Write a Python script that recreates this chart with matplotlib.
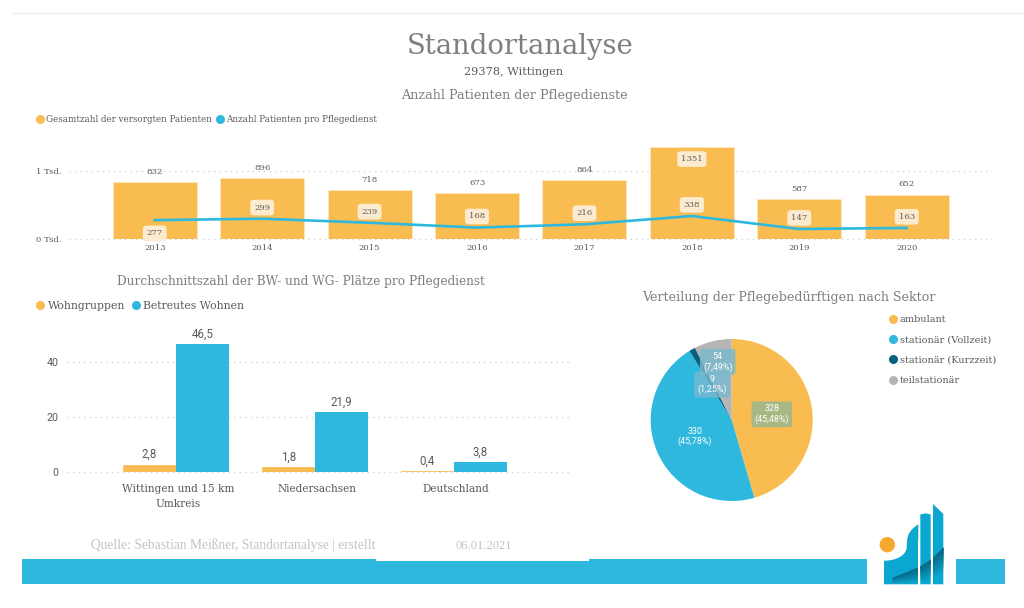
import matplotlib
matplotlib.use("Agg")
import matplotlib.pyplot as plt
import numpy as np
from matplotlib.lines import Line2D
from matplotlib.patches import Circle, PathPatch, Polygon, Rectangle
from matplotlib.path import Path

W, H = 1024, 608

ORANGE = "#F9BC50"
BLUE = "#2EB8DE"
DARK = "#07607F"
GRAY = "#B5B5B5"
TITLE = "#7F7F7F"
TEXT = "#5A5A5A"
GRID = "#D4D4D4"
SLAB = "DejaVu Serif"
SANS = "Roboto"

years = ["2013", "2014", "2015", "2016", "2017", "2018", "2019", "2020"]
patients_total = [832, 896, 718, 673, 864, 1351, 587, 652]
patients_per_service = [277, 299, 239, 168, 216, 338, 147, 163]

regions = ["Wittingen und 15 km\nUmkreis", "Niedersachsen", "Deutschland"]
wohngruppen = [2.8, 1.8, 0.4]
betreutes_wohnen = [46.5, 21.9, 3.8]

sectors = ["ambulant", "stationär (Vollzeit)", "stationär (Kurzzeit)", "teilstationär"]
sector_values = [328, 330, 9, 54]
sector_shares = ["45,48%", "45,78%", "1,25%", "7,49%"]


def px_axes(left, top, right, bottom):
    # axes box given in image pixels
    ax = fig.add_axes([left / W, 1 - bottom / H, (right - left) / W, (bottom - top) / H])
    ax.patch.set_alpha(0)
    for spine in ax.spines.values():
        spine.set_visible(False)
    return ax


def px_legend(labels, colors, x, y, size, **kwargs):
    handles = [Line2D([], [], ls="", marker="o", ms=6.5, color=c, mew=0) for c in colors]
    fig.legend(handles, labels, loc="upper left", bbox_to_anchor=(x / W, 1 - y / H),
               frameon=False, borderpad=0, borderaxespad=0, handlelength=1,
               handletextpad=0.15, labelcolor=TEXT, prop={"family": SLAB, "size": size},
               **kwargs)


fig = plt.figure(figsize=(W / 100, H / 100), dpi=100)

# page decoration in pixel coordinates
page = fig.add_axes([0, 0, 1, 1])
page.set_xlim(0, W)
page.set_ylim(H, 0)
page.axis("off")
page.plot([12, W], [12.5, 12.5], color="#EEEEEE", lw=1)
page.text(520, 47, "Standortanalyse", ha="center", va="center", color=TITLE, family=SLAB, size=19.8)
page.text(513.5, 72, "29378, Wittingen", ha="center", va="center", color=TEXT, family=SLAB, size=8.1)
page.text(514.5, 95, "Anzahl Patienten der Pflegedienste", ha="center", va="center", color=TITLE, family=SLAB, size=9.15)
page.text(301, 281, "Durchschnittszahl der BW- und WG- Plätze pro Pflegedienst", ha="center", va="center", color=TITLE, family=SLAB, size=8.7)
page.text(789, 297, "Verteilung der Pflegebedürftigen nach Sektor", ha="center", va="center", color=TITLE, family=SLAB, size=9.05)

# footer
page.add_patch(Rectangle((22, 559), 845, 24.5, color=BLUE, lw=0))
page.add_patch(Rectangle((956, 559), 48.7, 24.5, color=BLUE, lw=0))
page.add_patch(Rectangle((376, 559), 213, 2, color="white", lw=0))
page.text(91, 545, "Quelle: Sebastian Meißner, Standortanalyse | erstellt", ha="left", va="center",
          color="#C4C4C4", family="Liberation Serif", size=9.75)
page.text(483.5, 546, "06.01.2021", ha="center", va="center", color="#C4C4C4",
          family="Liberation Serif", size=9)

# logo
LOGO = "#0AA8D0"
swoosh = Path([(884, 560.7), (897, 560.7), (906.7, 555), (906.7, 546.7), (906.7, 537), (908, 531), (918.3, 524.3),
               (918.3, 584.3), (884, 584.3), (884, 560.7)],
              [Path.MOVETO, Path.CURVE4, Path.CURVE4, Path.CURVE4, Path.CURVE4, Path.CURVE4, Path.CURVE4,
               Path.LINETO, Path.LINETO, Path.CLOSEPOLY])
page.add_patch(PathPatch(swoosh, fc=LOGO, lw=0))
page.add_patch(Polygon([(920.3, 584.3), (920.3, 514.5), (925.5, 513.3), (930.7, 514.5), (930.7, 584.3)], fc=LOGO, lw=0))
page.add_patch(Polygon([(933, 584.3), (933, 504), (943.3, 514), (943.3, 584.3)], fc=LOGO, lw=0))
page.add_patch(Circle((887.3, 544.7), 7.7, fc="#F5A82E", lw=0))
# shaded band across the logo
gx = np.linspace(884, 943.3, 120)
gy = np.linspace(545, 584.3, 80)
edge = np.interp(gx, [892, 918, 931, 943.3], [578.5, 568, 560, 548])
fade = 6 + (gx - 892).clip(0) * 0.38
shade = np.zeros((len(gy), len(gx), 4))
shade[..., :3] = matplotlib.colors.to_rgb("#075C7A")
depth = gy[:, None] - edge[None, :]
shade[..., 3] = np.where(depth > 0, np.clip(1 - depth / fade[None, :], 0, 1), 0) * (gx[None, :] > 892) * 0.9
page.imshow(shade, extent=(884, 943.3, 584.3, 545), aspect="auto", interpolation="bilinear", zorder=3)
page.add_patch(Rectangle((918.3, 540), 2, 45, color="white", lw=0, zorder=4))
page.add_patch(Rectangle((930.7, 540), 2.3, 45, color="white", lw=0, zorder=4))
page.set_xlim(0, W)
page.set_ylim(H, 0)

# top chart: bars and line
ax1 = px_axes(69, 140, 992, 239)
x1 = np.arange(len(years))
ax1.bar(x1, patients_total, width=0.783, color=ORANGE, edgecolor="#FDE6C0", lw=0.6, zorder=2)
ax1.plot(x1, patients_per_service, color=BLUE, lw=1.9, zorder=3)
ax1.set_xlim(-0.798, 7.794)
ax1.set_ylim(0, 1456)
ax1.set_xticks(x1, years)
ax1.set_yticks([0, 1000], ["0 Tsd.", "1 Tsd."])
ax1.grid(axis="y", color=GRID, ls=(0, (1, 3)), lw=1, zorder=0, clip_on=False)
ax1.tick_params(length=0, labelsize=6.1, labelcolor=TEXT, pad=3.5)
ax1.tick_params(axis="y", pad=5.5)
for lab in ax1.get_xticklabels() + ax1.get_yticklabels():
    lab.set_family(SLAB)
box = dict(boxstyle="round,pad=0.45,rounding_size=0.4", fc="#FDEBCF", ec="none")
for i, (total, per) in enumerate(zip(patients_total, patients_per_service)):
    if total > 1000:
        ax1.annotate(str(total), (i, total), xytext=(0, -8.6), textcoords="offset points", ha="center",
                     va="center", color=TEXT, family=SLAB, size=6.1, bbox=box, zorder=4)
    else:
        ax1.annotate(str(total), (i, total), xytext=(0, 7.6), textcoords="offset points", ha="center",
                     va="center", color=TEXT, family=SLAB, size=6.1, zorder=4)
    off = -9.5 if i == 0 else 8
    ax1.annotate(str(per), (i, per), xytext=(0, off), textcoords="offset points", ha="center",
                 va="center", color=TEXT, family=SLAB, size=6.1, bbox=box, zorder=4)
px_legend(["Gesamtzahl der versorgten Patienten", "Anzahl Patienten pro Pflegedienst"], [ORANGE, BLUE],
          36, 115.5, 6.35, ncol=2, columnspacing=0.45)

# bottom left chart: grouped bars
ax2 = px_axes(67, 330, 569, 472.3)
x2 = np.arange(len(regions))
bar_w = 53 / 139
bars_wg = ax2.bar(x2 - bar_w / 2, wohngruppen, width=bar_w, color=ORANGE, edgecolor=ORANGE, lw=0.5, zorder=2)
bars_bw = ax2.bar(x2 + bar_w / 2, betreutes_wohnen, width=bar_w, color=BLUE, zorder=2)
for bars, values in ((bars_wg, wohngruppen), (bars_bw, betreutes_wohnen)):
    ax2.bar_label(bars, labels=[str(v).replace(".", ",") for v in values], padding=2.5,
                  color=TEXT, family=SANS, size=8.3)
ax2.set_xlim((67 - 176) / 139, (569 - 176) / 139)
ax2.set_ylim(0, 51.5)
ax2.set_xticks(x2 + 0.015, regions)
ax2.set_yticks([0, 20, 40])
ax2.grid(axis="y", color=GRID, ls=(0, (1, 3)), lw=1, zorder=0, clip_on=False)
ax2.tick_params(axis="x", length=0, labelsize=7.6, labelcolor=TEXT, pad=8.5)
ax2.tick_params(axis="y", length=0, labelsize=7.7, labelcolor=TEXT, pad=6)
for lab in ax2.get_xticklabels():
    lab.set_family(SLAB)
    lab.set_linespacing(1.6)
for lab in ax2.get_yticklabels():
    lab.set_family(SANS)
px_legend(["Wohngruppen", "Betreutes Wohnen"], [ORANGE, BLUE], 35, 300.5, 7.8, ncol=2, columnspacing=0.55)

# pie chart
cx, cy, r = 731.7, 420, 81
ax3 = px_axes(cx - 1.1 * r, cy - 1.1 * r, cx + 1.1 * r, cy + 1.1 * r)
wedges, _ = ax3.pie(sector_values, colors=[ORANGE, BLUE, DARK, GRAY], startangle=90, counterclock=False)
ax3.set_xlim(-1.1, 1.1)
ax3.set_ylim(-1.1, 1.1)
label_dist = [0.5, 0.5, 0.5, 0.74]
label_fill = ["#95B892", None, "#78B9D2", "#7BB9CC"]
for wedge, value, share, dist, fill in zip(wedges, sector_values, sector_shares, label_dist, label_fill):
    ang = np.deg2rad((wedge.theta1 + wedge.theta2) / 2)
    bbox = None
    if fill:
        bbox = dict(boxstyle="round,pad=0.35,rounding_size=0.3", fc=fill, ec="none", alpha=0.82)
    ax3.text(dist * np.cos(ang), dist * np.sin(ang), f"{value}\n({share})", ha="center", va="center",
             color="white", family=SANS, size=6.4, linespacing=1.15, bbox=bbox, zorder=5)
px_legend(sectors, [ORANGE, BLUE, DARK, GRAY], 888.5, 315, 7, labelspacing=1.17)

fig.savefig("out.png", dpi=100)
